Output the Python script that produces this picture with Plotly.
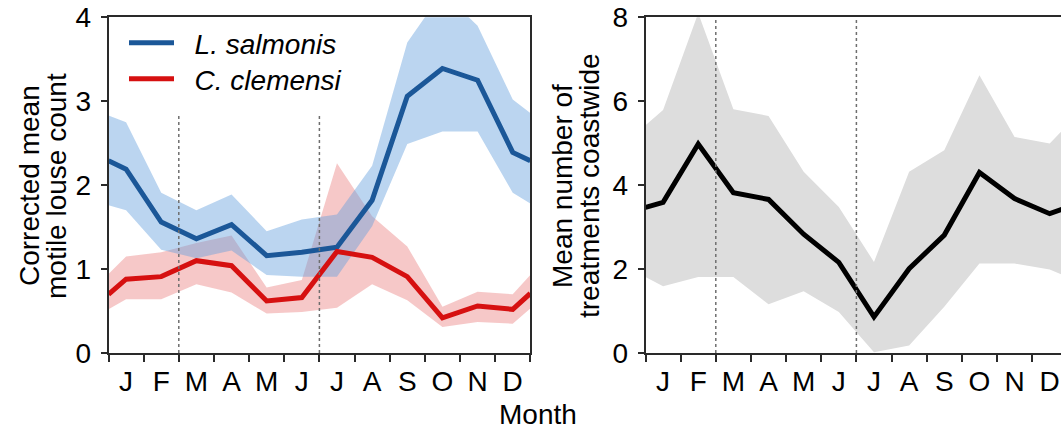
import plotly.graph_objects as go

# ---------------- data ----------------
months = ["J", "F", "M", "A", "M", "J", "J", "A", "S", "O", "N", "D"]
month_mid = [0.5, 1.5, 2.5, 3.5, 4.5, 5.5, 6.5, 7.5, 8.5, 9.5, 10.5, 11.5]
month_edges = list(range(13))
x_pts = [0, 0.5, 1.5, 2.5, 3.5, 4.5, 5.5, 6.5, 7.5, 8.5, 9.5, 10.5, 11.5, 12]

ls_mean = [2.29, 2.19, 1.56, 1.36, 1.53, 1.16, 1.20, 1.26, 1.82, 3.06, 3.39, 3.25, 2.39, 2.29]
ls_upper = [2.83, 2.75, 1.91, 1.70, 1.89, 1.45, 1.59, 1.65, 2.23, 3.70, 4.30, 3.90, 3.02, 2.86]
ls_lower = [1.76, 1.70, 1.23, 1.13, 1.22, 0.93, 0.91, 0.91, 1.51, 2.49, 2.64, 2.64, 1.91, 1.78]

cc_mean = [0.70, 0.88, 0.91, 1.10, 1.04, 0.62, 0.66, 1.21, 1.14, 0.91, 0.42, 0.56, 0.52, 0.71]
cc_upper = [0.94, 1.15, 1.20, 1.31, 1.40, 0.78, 0.87, 2.26, 1.63, 1.27, 0.55, 0.73, 0.70, 0.93]
cc_lower = [0.52, 0.64, 0.64, 0.82, 0.72, 0.47, 0.49, 0.54, 0.82, 0.63, 0.31, 0.37, 0.35, 0.53]

tr_mean = [3.47, 3.59, 4.98, 3.82, 3.66, 2.83, 2.16, 0.86, 2.01, 2.81, 4.30, 3.68, 3.32, 3.47]
tr_upper = [5.43, 5.79, 8.10, 5.81, 5.65, 4.32, 3.48, 2.17, 4.32, 4.83, 6.62, 5.15, 4.99, 5.43]
tr_lower = [1.81, 1.59, 1.81, 1.81, 1.16, 1.47, 0.98, 0.02, 0.18, 1.10, 2.13, 2.13, 1.99, 1.81]

season_bounds = [2, 6]
left_vline_top = 2.86
right_vline_top = 8

# ---------------- style ----------------
FONT = "Liberation Sans, Arial, sans-serif"
FS = 28
BLUE = "rgb(27,87,152)"
RED = "rgb(214,16,16)"
BLUE_FILL = "rgba(100,160,220,0.44)"
RED_FILL = "rgba(232,110,110,0.38)"
GREY_FILL = "rgb(221,221,221)"
AX = "#2a2a2a"
NB = "\u00a0\u00a0"
LW = 5

W, H = 1061, 430


def band(x, lo, hi, color, xa, ya):
    return go.Scatter(
        x=list(x) + list(x)[::-1],
        y=list(hi) + list(lo)[::-1],
        fill="toself", fillcolor=color, line=dict(width=0),
        mode="lines", hoverinfo="skip", showlegend=False,
        xaxis=xa, yaxis=ya,
    )


fig = go.Figure()
fig.add_trace(band(x_pts, cc_lower, cc_upper, RED_FILL, "x", "y"))
fig.add_trace(band(x_pts, ls_lower, ls_upper, BLUE_FILL, "x", "y"))
fig.add_trace(go.Scatter(x=x_pts, y=ls_mean, mode="lines", name=NB + "<i>L. salmonis</i>",
                         line=dict(color=BLUE, width=LW), xaxis="x", yaxis="y", legend="legend"))
fig.add_trace(go.Scatter(x=x_pts, y=cc_mean, mode="lines", name=NB + "<i>C. clemensi</i>",
                         line=dict(color=RED, width=LW), xaxis="x", yaxis="y", legend="legend2"))

fig.add_trace(band(x_pts, tr_lower, tr_upper, GREY_FILL, "x2", "y2"))
fig.add_trace(go.Scatter(x=x_pts, y=tr_mean, mode="lines", showlegend=False,
                         line=dict(color="black", width=LW), xaxis="x2", yaxis="y2"))

for b in season_bounds:
    fig.add_shape(type="line", xref="x", yref="y", x0=b, x1=b, y0=0, y1=left_vline_top,
                  line=dict(color="rgb(110,110,110)", width=1.5, dash="dot"), layer="above")
    fig.add_shape(type="line", xref="x2", yref="y2", x0=b, x1=b, y0=0, y1=right_vline_top,
                  line=dict(color="rgb(110,110,110)", width=1.5, dash="dot"), layer="above")

x_left0, month_px = 108.5, 35.15
x_right0 = 645.5
top_px, bot_px = 17.3, 353.0
ydom = [1 - bot_px / H, 1 - top_px / H]
right_range_end = (W - x_right0) / month_px

xcommon = dict(
    tickvals=month_mid, ticktext=months, ticks="", showgrid=False, zeroline=False,
    showline=True, linecolor=AX, linewidth=1.5, mirror=True,
    tickfont=dict(size=FS, color="black", family=FONT), ticklabelstandoff=3,
    minor=dict(tickvals=month_edges, ticks="outside", ticklen=7, tickwidth=1.5, tickcolor=AX),
)
ycommon = dict(
    ticks="outside", ticklen=6, tickwidth=1.5, tickcolor=AX, showgrid=False, zeroline=False,
    showline=True, linecolor=AX, linewidth=1.5,
    tickfont=dict(size=FS, color="black", family=FONT), ticklabelstandoff=4,
)

leg_common = dict(xanchor="left", yanchor="middle", bgcolor="rgba(0,0,0,0)",
                  font=dict(size=FS, family=FONT, color="black"), itemwidth=45,
                  borderwidth=0)

fig.update_layout(
    width=W, height=H,
    margin=dict(l=0, r=0, t=0, b=0, autoexpand=False),
    paper_bgcolor="white", plot_bgcolor="white",
    font=dict(family=FONT, color="black"),
    xaxis=dict(domain=[x_left0 / W, (x_left0 + 12 * month_px) / W], range=[0, 12], anchor="y", **xcommon),
    yaxis=dict(domain=ydom, range=[0, 4], tickvals=[0, 1, 2, 3, 4], anchor="x", mirror=True, **ycommon),
    xaxis2=dict(domain=[x_right0 / W, 1.0], range=[0, right_range_end], anchor="y2", **xcommon),
    yaxis2=dict(domain=ydom, range=[0, 8], tickvals=[0, 2, 4, 6, 8], anchor="x2", mirror=False, **ycommon),
    legend=dict(x=124 / W, y=1 - 43 / H, **leg_common),
    legend2=dict(x=124 / W, y=1 - 79 / H, **leg_common),
    showlegend=True,
)

annos = [
    dict(text="Corrected mean", x=30, y=186, angle=-90),
    dict(text="motile louse count", x=57, y=186, angle=-90),
    dict(text="Mean number of", x=563, y=186, angle=-90),
    dict(text="treatments coastwide", x=590, y=186, angle=-90),
]
for a in annos:
    fig.add_annotation(text=a["text"], x=a["x"] / W, y=1 - a["y"] / H, xref="paper", yref="paper",
                       xanchor="center", yanchor="middle", textangle=a["angle"], showarrow=False,
                       font=dict(size=FS, family=FONT, color="black"))
fig.add_annotation(text="Month", x=538 / W, y=1 - 414 / H, xref="paper", yref="paper",
                   xanchor="center", yanchor="middle", showarrow=False,
                   font=dict(size=FS, family=FONT, color="black"))

fig.write_html("out.html", config={"displayModeBar": False},
               post_script="document.body.style.margin='0';")
